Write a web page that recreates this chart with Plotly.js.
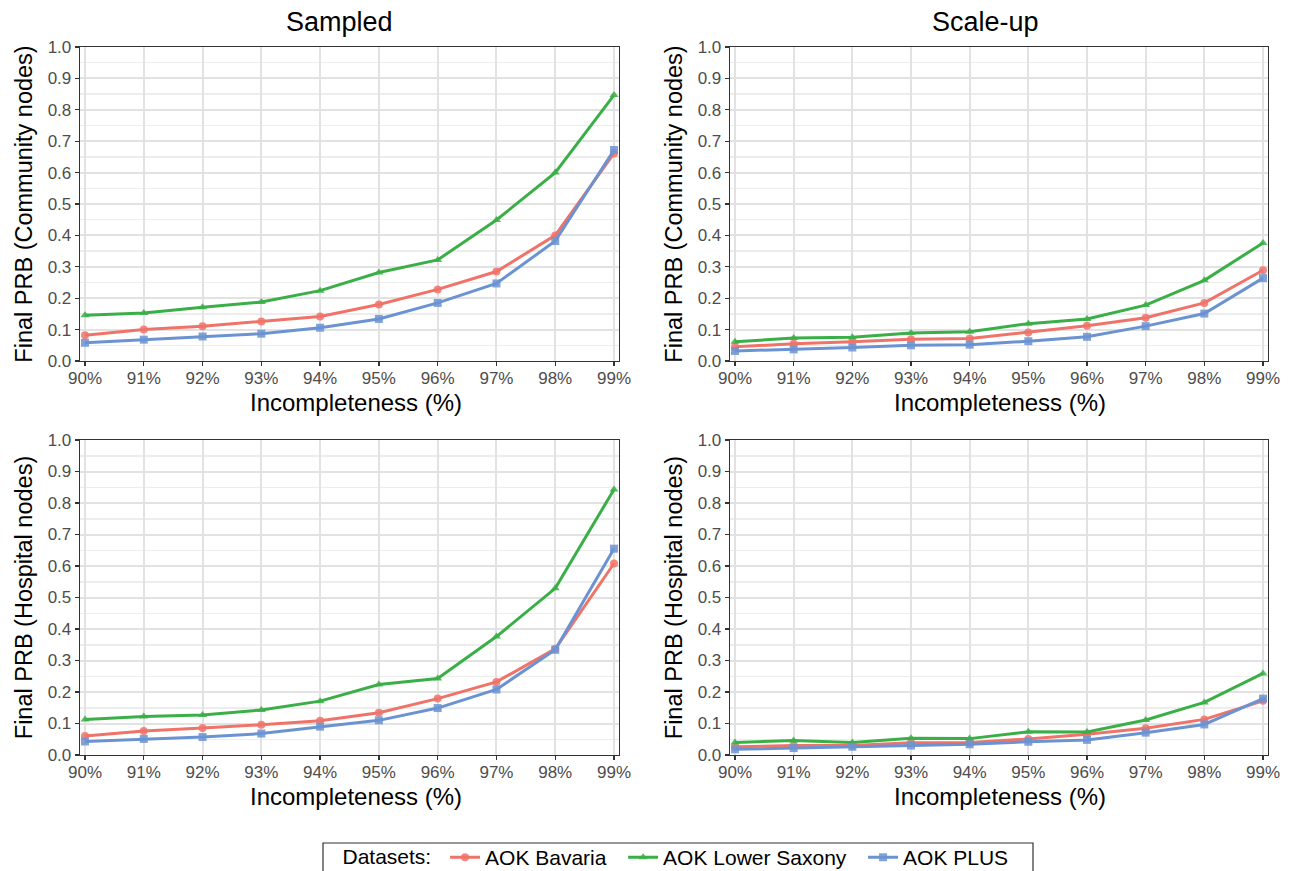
<!DOCTYPE html>
<html>
<head>
<meta charset="utf-8">
<script src="https://cdn.plot.ly/plotly-3.0.1.min.js"></script>
<style>
  html, body { margin: 0; padding: 0; background: #ffffff; }
  #chart { width: 1303px; height: 871px; }
</style>
</head>
<body>
<div id="chart"></div>
<script>
// Incompleteness levels on the x axis
const levels = ['90%', '91%', '92%', '93%', '94%', '95%', '96%', '97%', '98%', '99%'];
const datasetNames = ['AOK Bavaria', 'AOK Lower Saxony', 'AOK PLUS'];

// Sampled, community nodes
const sampledCommunityBavaria = [0.082, 0.100, 0.111, 0.126, 0.142, 0.180, 0.228, 0.285, 0.400, 0.661];
const sampledCommunitySaxony  = [0.146, 0.153, 0.171, 0.188, 0.224, 0.282, 0.322, 0.449, 0.600, 0.847];
const sampledCommunityPlus    = [0.058, 0.068, 0.078, 0.087, 0.106, 0.134, 0.185, 0.247, 0.382, 0.672];

// Scale-up, community nodes
const scaleupCommunityBavaria = [0.045, 0.055, 0.061, 0.069, 0.072, 0.091, 0.112, 0.138, 0.185, 0.289];
const scaleupCommunitySaxony  = [0.061, 0.073, 0.076, 0.089, 0.093, 0.119, 0.134, 0.178, 0.257, 0.376];
const scaleupCommunityPlus    = [0.032, 0.037, 0.043, 0.050, 0.052, 0.063, 0.077, 0.111, 0.151, 0.264];

// Sampled, hospital nodes
const sampledHospitalBavaria = [0.060, 0.076, 0.086, 0.096, 0.109, 0.134, 0.179, 0.232, 0.337, 0.608];
const sampledHospitalSaxony  = [0.113, 0.122, 0.127, 0.143, 0.171, 0.224, 0.243, 0.376, 0.529, 0.843];
const sampledHospitalPlus    = [0.043, 0.051, 0.057, 0.068, 0.090, 0.110, 0.149, 0.208, 0.334, 0.655];

// Scale-up, hospital nodes
const scaleupHospitalBavaria = [0.026, 0.030, 0.030, 0.039, 0.040, 0.051, 0.066, 0.085, 0.113, 0.172];
const scaleupHospitalSaxony  = [0.040, 0.046, 0.040, 0.053, 0.052, 0.074, 0.073, 0.111, 0.167, 0.259];
const scaleupHospitalPlus    = [0.018, 0.022, 0.026, 0.030, 0.034, 0.042, 0.048, 0.071, 0.097, 0.179];

const colors = ['#F0736A', '#3BAF47', '#6B93D2'];
const symbols = ['circle', 'triangle-up', 'square'];
// trailing non-breaking spaces widen the gap between legend entries
const legendPad = ['\u00a0\u00a0', '\u00a0\u00a0', ''];

const panels = [
  { xa: 'x',  ya: 'y',  series: [sampledCommunityBavaria, sampledCommunitySaxony, sampledCommunityPlus] },
  { xa: 'x2', ya: 'y2', series: [scaleupCommunityBavaria, scaleupCommunitySaxony, scaleupCommunityPlus] },
  { xa: 'x3', ya: 'y3', series: [sampledHospitalBavaria, sampledHospitalSaxony, sampledHospitalPlus] },
  { xa: 'x4', ya: 'y4', series: [scaleupHospitalBavaria, scaleupHospitalSaxony, scaleupHospitalPlus] }
];

const traces = [];
panels.forEach((p, pi) => {
  p.series.forEach((vals, si) => {
    traces.push({
      type: 'scatter',
      mode: 'lines+markers',
      x: levels,
      y: vals,
      xaxis: p.xa,
      yaxis: p.ya,
      name: datasetNames[si] + legendPad[si],
      legendgroup: datasetNames[si],
      showlegend: pi === 0,
      line: { color: colors[si], width: 3 },
      marker: { color: colors[si], symbol: symbols[si], size: 8, opacity: 0.85 },
      hoverinfo: 'x+y+name'
    });
  });
});

const W = 1303, H = 871;
const px = (a, b) => [a / W, b / W];
const py = (top, bottom) => [(H - bottom) / H, (H - top) / H];

const FONT = 'Liberation Sans, Arial, sans-serif';
const tickFont = { family: FONT, size: 17, color: '#4d4d4d' };
const yTitleFont = { family: FONT, size: 23.5, color: '#000000' };

function xAxis(domain, anchor) {
  return {
    domain: domain, anchor: anchor, type: 'category',
    categoryorder: 'array', categoryarray: levels,
    range: [-0.085, 9.085],
    showgrid: true, gridcolor: '#e2e2e2', gridwidth: 2,
    showline: true, mirror: true, linecolor: '#333333', linewidth: 1.3,
    ticks: 'outside', ticklen: 4, tickcolor: '#333333', tickwidth: 1.3,
    tickfont: tickFont, ticklabelstandoff: -3,
    zeroline: false, fixedrange: true
  };
}
function yAxis(domain, anchor, label) {
  return {
    domain: domain, anchor: anchor,
    range: [0, 1.0], dtick: 0.1, tick0: 0, tickformat: '.1f',
    showgrid: true, gridcolor: '#e2e2e2', gridwidth: 2,
    minor: { dtick: 0.05, showgrid: true, gridcolor: '#ededed', gridwidth: 1.5, ticks: '' },
    showline: true, mirror: true, linecolor: '#333333', linewidth: 1.3,
    ticks: 'outside', ticklen: 4, tickcolor: '#333333', tickwidth: 1.3,
    tickfont: tickFont,
    title: { text: label, font: yTitleFont, standoff: 8 },
    zeroline: false, fixedrange: true
  };
}

const leftX = px(80, 619), rightX = px(730, 1268);
const topY = py(47, 361), botY = py(440, 755);

function label(text, xPix, yPix, size) {
  return {
    text: text, xref: 'paper', yref: 'paper', x: xPix / W, y: (H - yPix) / H,
    xanchor: 'center', yanchor: 'middle', showarrow: false,
    font: { family: FONT, size: size, color: '#000000' }
  };
}

const layout = {
  width: W, height: H,
  margin: { l: 0, r: 0, t: 0, b: 0, autoexpand: false },
  paper_bgcolor: '#ffffff', plot_bgcolor: '#ffffff',
  font: { family: FONT },
  xaxis:  xAxis(leftX,  'y'),
  yaxis:  yAxis(topY,   'x',  'Final PRB (Community nodes)'),
  xaxis2: xAxis(rightX, 'y2'),
  yaxis2: yAxis(topY,   'x2', 'Final PRB (Community nodes)'),
  xaxis3: xAxis(leftX,  'y3'),
  yaxis3: yAxis(botY,   'x3', 'Final PRB (Hospital nodes)'),
  xaxis4: xAxis(rightX, 'y4'),
  yaxis4: yAxis(botY,   'x4', 'Final PRB (Hospital nodes)'),
  annotations: [
    label('Sampled', 339, 22, 27),
    label('Scale-up', 985, 22, 27),
    label('Incompleteness (%)', 356, 402, 24),
    label('Incompleteness (%)', 1000, 402, 24),
    label('Incompleteness (%)', 356, 796, 24),
    label('Incompleteness (%)', 1000, 796, 24)
  ],
  // legend frame, running past the bottom edge of the page
  shapes: [
    { type: 'rect', xref: 'paper', yref: 'paper',
      x0: 323 / W, x1: 1033 / W, y0: -0.05, y1: (H - 843) / H,
      line: { color: '#333333', width: 1.2 }, fillcolor: 'rgba(0,0,0,0)', layer: 'above' }
  ],
  showlegend: true,
  legend: {
    orientation: 'h', x: 677 / W, xanchor: 'center', y: (H - 837) / H, yanchor: 'top',
    title: { text: 'Datasets:\u00a0', font: { family: FONT, size: 21, color: '#000000' }, side: 'left' },
    font: { family: FONT, size: 21, color: '#000000' },
    borderwidth: 0, bgcolor: 'rgba(0,0,0,0)',
    itemwidth: 30, tracegroupgap: 0
  }
};

Plotly.newPlot('chart', traces, layout, { displayModeBar: false, staticPlot: true });
</script>
</body>
</html>
